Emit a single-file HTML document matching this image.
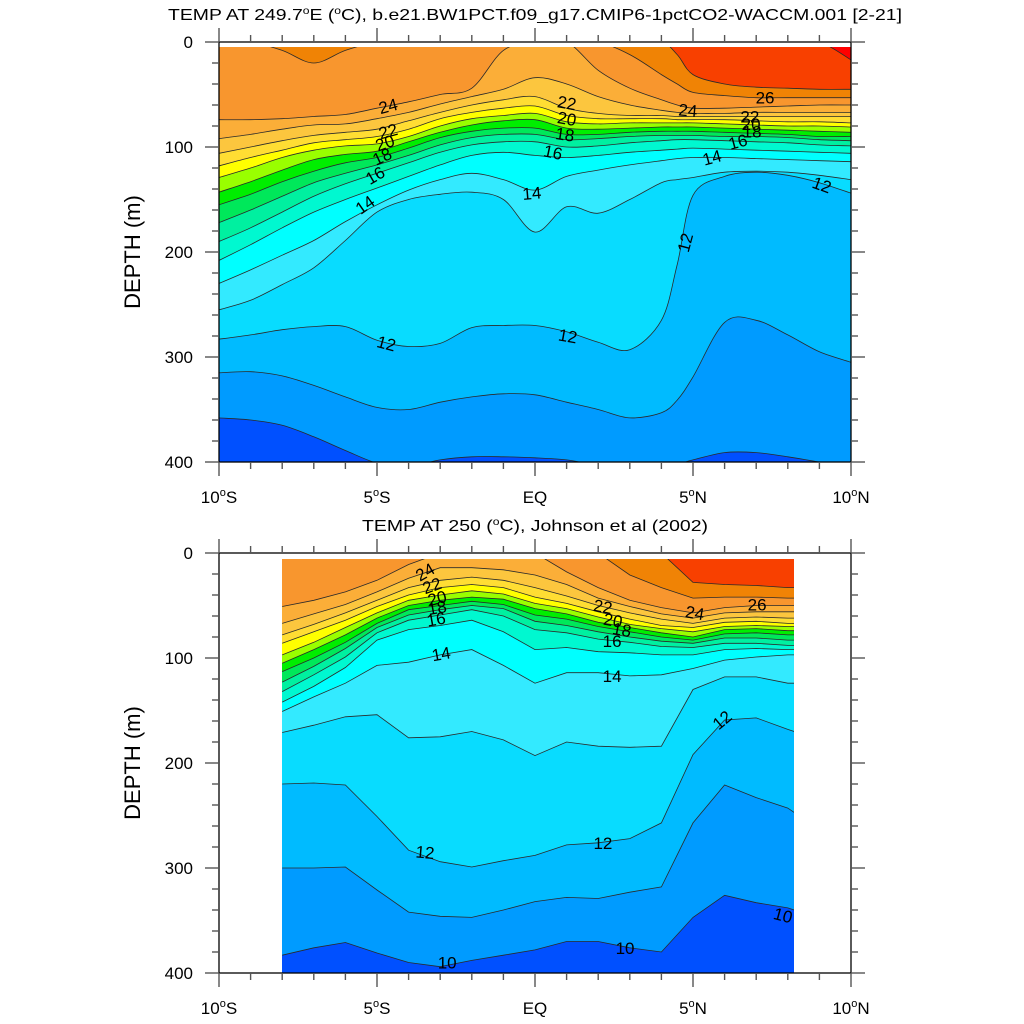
<!DOCTYPE html>
<html><head><meta charset="utf-8"><title>TEMP sections</title>
<style>html,body{margin:0;padding:0;background:#fff}svg{display:block}text{font-family:"Liberation Sans",sans-serif}</style></head>
<body>
<svg id="chart" width="1024" height="1024" viewBox="0 0 1024 1024" xmlns="http://www.w3.org/2000/svg"></svg>
<script>
// ---------- data ----------
const levels = [10,11,12,13,14,15,16,17,18,19,20,21,22,23,24,25,26,27];
const bandColors = ['#009bff','#00bbff','#08dcff','#33eaff','#00ffff','#00f8d0','#00f0a0','#00e85a','#00ee00','#99ff00','#ffff00','#ffdd33','#fcc63e','#fbae38','#f8962e','#f08305','#f84000','#ff0000'];
const coldColor = '#0050ff';
const xTicks = [-10,-5,0,5,10];
const xTickLabels = ['10°S','5°S','EQ','5°N','10°N'];
const yTicks = [0,100,200,300,400];

// top panel (model)
const latsTop = [-10,-9,-8,-7,-6,-5,-4,-3,-2,-1,0,1,2,3,4,4.5,5,6,7,8,9,10];
const t10 = [358,360,365,376,389,401,404,398,395,395,396,398,403,404,404,402,398,391,391,395,400,404];
const t11 = [315,314,318,327,338,348,350,343,338,335,336,343,350,358,353,341,319,267,265,279,295,305];
const t12 = [283,279,274,271,271,284,290,287,272,270,270,276,286,293,265,212,146,128,124,127,134,144];
const t13 = [255,246,231,215,189,162,150,145,143,150,181,157,163,150,134,131,129,124,123,124,127,131];
const t14 = [230,217,203,189,171,155,141,131,125,131,141,128,122,117,113,111,110,110,111,112,113,114];
const t15 = [208,193,177,162,150,139,128,117,108,105,108,110,108,105,103,102,101,102,103,104,105,106];
const t16 = [190,177,162,147,135,125,115,105,98,95,95,100,99,96,94,93,93,94,95,96,98,99];
const t17 = [172,160,147,134,125,117,108,98,91,88,88,93,92,90,89,89,89,90,90,91,93,94];
const t18 = [155,145,133,123,115,110,101,91,85,82,82,88,88,86,85,85,85,86,87,88,90,90];
const t19 = [143,133,122,112,107,104,95,86,79,75,74,82,83,82,81,81,81,82,83,84,85,86];
const t20 = [129,120,110,103,99,97,90,80,73,70,68,76,78,77,77,77,77,78,79,80,80,81];
const t21 = [118,110,103,96,93,90,83,73,67,63,61,70,73,73,73,74,74,74,75,76,76,77];
const t22 = [106,100,94,89,86,83,75,67,60,55,52,63,68,70,70,71,71,71,71,71,71,71];
const t23 = [92,88,83,79,78,73,67,59,52,45,34,40,52,60,65,67,68,68,67,67,67,67];
const t24 = [74,74,73,71,69,63,57,50,44,8,0,0,27,44,55,60,63,63,62,61,60,60];
const t25 = [0,0,8,20,8,0,0,0,0,0,0,0,0,12,31,40,48,51,53,53,53,53];
const t26 = [0,0,0,0,0,0,0,0,0,0,0,0,0,0,0,12,31,40,43,44,45,45];
const t27 = [0,0,0,0,0,0,0,0,0,0,0,0,0,0,0,0,0,0,0,0,0,17];
const topLabelLat = [-4.65,-4.65,-4.75,-4.84,-5.06,-5.38,1.01,1.01,0.95,0.57,-0.1,4.84,7.28,6.8,6.84,6.87,6.42,5.6,9.08,4.75,-4.7,1.04];
const topLabelDepth = [61,85,96,109,127,155,58,73,88,105,144,65,53,71,78,85,95,110,136,191,287,280];
const topLabelText = ['24','22','20','18','16','14','22','20','18','16','14','24','26','22','20','18','16','14','12','12','12','12'];
const topLabelRot = [-15,-15,-20,-25,-30,-35,10,10,8,12,-5,5,0,0,0,0,-15,-15,20,-75,15,10];

// bottom panel (Johnson et al 2002)
const latsBot = [-8,-7,-6,-5,-4,-3,-2,-1,0,1,2,3,4,5,6,7,8,8.2];
const b10 = [383,376,371,381,390,394,388,383,378,370,370,376,380,347,326,333,338,340];
const b11 = [300,300,299,321,342,346,347,340,332,328,329,323,318,257,221,233,243,247];
const b12 = [220,219,221,251,283,294,299,293,288,278,276,272,257,192,159,157,168,170];
const b13 = [171,164,156,154,176,175,170,178,193,180,184,185,184,130,118,118,124,124];
const b14 = [151,137,124,107,104,97,92,107,124,114,114,117,116,110,102,99,97,97];
const b15 = [142,127,109,83,73,69,64,75,92,90,94,95,97,97,92,91,92,92];
const b16 = [132,116,99,76,64,59,54,60,73,76,82,85,89,90,86,86,88,88];
const b17 = [123,108,91,71,59,54,50,53,65,69,75,80,84,86,81,81,83,83];
const b18 = [113,100,85,67,54,50,46,49,59,63,70,75,80,83,77,76,78,78];
const b19 = [105,92,78,62,50,45,42,44,53,58,66,71,76,80,73,72,74,74];
const b20 = [97,85,71,57,45,40,36,39,48,53,61,68,72,75,70,69,70,70];
const b21 = [86,75,64,51,40,33,30,33,42,48,56,63,69,71,66,65,67,67];
const b22 = [78,68,57,45,33,26,23,26,33,41,50,57,63,67,62,61,62,62];
const b23 = [67,58,49,37,24,14,14,16,21,30,43,51,58,62,57,56,56,56];
const b24 = [51,45,37,26,11,0,0,0,0,18,33,45,52,57,52,50,50,50];
const b25 = [0,0,0,0,0,0,0,0,0,0,0,21,33,43,42,42,43,43];
const b26 = [0,0,0,0,0,0,0,0,0,0,0,0,0,28,30,31,33,33];
const botLabelLat = [-3.48,-3.26,-3.1,-3.1,-3.13,-2.97,2.15,2.47,2.75,2.44,5.06,7.03,2.44,5.92,-3.48,2.15,-2.78,2.85,7.85];
const botLabelDepth = [18,31,43,52,63,96,51,64,73,84,57,49,117,159,285,276,390,376,345];
const botLabelText = ['24','22','20','18','16','14','22','20','18','16','24','26','14','12','12','12','10','10','10'];
const botLabelRot = [-30,-20,-15,-10,-10,-10,10,10,10,0,10,0,0,-40,5,0,0,0,15];

// ---------- drawing ----------
const NS='http://www.w3.org/2000/svg';
const svg=document.getElementById('chart');
function el(tag,attrs,parent){const e=document.createElementNS(NS,tag);for(const k in attrs)e.setAttribute(k,attrs[k]);(parent||svg).appendChild(e);return e;}
const xScale=lat=>535+31.6*lat;
function curvePath(pts,smooth){
  let d='';
  if(!smooth){pts.forEach((p,i)=>{d+=(i?'L':'')+p[0].toFixed(1)+','+p[1].toFixed(1);});return d;}
  d=pts[0][0].toFixed(1)+','+pts[0][1].toFixed(1);
  for(let i=0;i<pts.length-1;i++){
    const p0=pts[Math.max(0,i-1)],p1=pts[i],p2=pts[i+1],p3=pts[Math.min(pts.length-1,i+2)];
    const c1=[p1[0]+(p2[0]-p0[0])/6,p1[1]+(p2[1]-p0[1])/6];
    const c2=[p2[0]-(p3[0]-p1[0])/6,p2[1]-(p3[1]-p1[1])/6];
    d+='C'+c1[0].toFixed(1)+','+c1[1].toFixed(1)+' '+c2[0].toFixed(1)+','+c2[1].toFixed(1)+' '+p2[0].toFixed(1)+','+p2[1].toFixed(1);
  }
  return d;
}
function panel(cfg){
  const yScale=d=>cfg.y0+1.05*d;
  const g=el('g',{});
  
  
  const cp=el('clipPath',{id:cfg.name+'-clip'},g);
  el('rect',{x:cfg.clip[0],y:cfg.clip[1],width:cfg.clip[2]-cfg.clip[0],height:cfg.clip[3]-cfg.clip[1]},cp);
  const fg=el('g',{'clip-path':'url(#'+cfg.name+'-clip)'},g);
  const bg=el('rect',{x:cfg.clip[0],y:cfg.clip[1],width:cfg.clip[2]-cfg.clip[0],height:cfg.clip[3]-cfg.clip[1],fill:coldColor},fg);
  
  
  cfg.series.forEach((arr,i)=>{
    const pts=cfg.lats.map((la,j)=>[xScale(la),yScale(arr[j])]);
    const first=pts[0],last=pts[pts.length-1];
    const d='M'+(first[0]-20)+','+(cfg.y0-20)+'L'+(first[0]-20)+','+first[1].toFixed(1)+'L'+curvePath(pts,cfg.smooth)+'L'+(last[0]+20)+','+last[1].toFixed(1)+'L'+(last[0]+20)+','+(cfg.y0-20)+'Z';
    const p=el('path',{d:d,fill:bandColors[i],stroke:'none'},fg);
    
    
  });
  cfg.series.forEach((arr,i)=>{
    const pts=cfg.lats.map((la,j)=>[xScale(la),yScale(arr[j])]);
    const l=el('path',{d:'M'+curvePath(pts,cfg.smooth),fill:'none',stroke:'#2a2a2a','stroke-width':0.8},fg);
    
    
  });
  cfg.labLat.forEach((la,i)=>{
    const x=xScale(la),y=yScale(cfg.labDepth[i]);
    const t=el('text',{x:x,y:y+6,'font-size':17,'text-anchor':'middle',fill:'#000',transform:'rotate('+cfg.labRot[i]+' '+x+' '+y+')'},fg);
    t.textContent=cfg.labText[i];
    
    
  });
  const fr=el('rect',{x:219,y:cfg.y0,width:632,height:420,fill:'none',stroke:'#000','stroke-width':1.3},g);
  
  
  const tk=el('g',{stroke:'#555','stroke-width':1.4},g);
  
  
  for(let d=0;d<=400;d+=20){
    const y=yScale(d),L=(d%100===0)?14:7;
    el('line',{x1:219-L,y1:y,x2:219,y2:y},tk);
    el('line',{x1:851,y1:y,x2:851+L,y2:y},tk);
  }
  for(let la=-10;la<=10;la++){
    const x=xScale(la),L=(la%5===0)?14:7;
    el('line',{x1:x,y1:cfg.y0,x2:x,y2:cfg.y0-L},tk);
    el('line',{x1:x,y1:cfg.y0+420,x2:x,y2:cfg.y0+420+L},tk);
  }
  yTicks.forEach(v=>{
    const t=el('text',{x:193,y:yScale(v)+6,'font-size':17,'text-anchor':'end'},g);
    t.textContent=String(v);
    
    
  });
  xTicks.forEach((v,i)=>{
    const t=el('text',{x:xScale(v),y:cfg.y0+461,'font-size':17,'text-anchor':'middle'},g);
    const s=xTickLabels[i];
    if(s.indexOf('°')>=0){
      const parts=s.split('°');
      const a=el('tspan',{},t);a.textContent=parts[0];
      const b=el('tspan',{dy:-7,'font-size':11},t);b.textContent='o';
      const c=el('tspan',{dy:7},t);c.textContent=parts[1];
    } else t.textContent=s;
    
    
  });
  const yt=el('text',{x:0,y:0,'font-size':22,'text-anchor':'middle',transform:'translate(140,'+(cfg.y0+210)+') rotate(-90)'},g);
  yt.textContent='DEPTH (m)';
  
  
}
panel({name:'model-panel',y0:42,lats:latsTop,smooth:true,clip:[219,47,851,462],
  series:[t10,t11,t12,t13,t14,t15,t16,t17,t18,t19,t20,t21,t22,t23,t24,t25,t26,t27],
  labLat:topLabelLat,labDepth:topLabelDepth,labText:topLabelText,labRot:topLabelRot});
panel({name:'obs-panel',y0:553,lats:latsBot,smooth:false,clip:[282,559,794,973],
  series:[b10,b11,b12,b13,b14,b15,b16,b17,b18,b19,b20,b21,b22,b23,b24,b25,b26],
  labLat:botLabelLat,labDepth:botLabelDepth,labText:botLabelText,labRot:botLabelRot});
</script>
<script>
(function(){
const NS='http://www.w3.org/2000/svg';const svg=document.getElementById('chart');
function title(y,parts,name,len){
  const t=document.createElementNS(NS,'text');
  t.setAttribute('x',535);t.setAttribute('y',y);t.setAttribute('font-size',16);t.setAttribute('text-anchor','middle');
  t.setAttribute('textLength',len);t.setAttribute('lengthAdjust','spacingAndGlyphs');
  parts.forEach(p=>{const s=document.createElementNS(NS,'tspan');if(p[1])s.setAttribute('dy',p[1]);if(p[2])s.setAttribute('font-size',p[2]);s.textContent=p[0];t.appendChild(s);});
  
  
  svg.appendChild(t);
}
title(20,[['TEMP AT 249.7'],['o',-6,10],['E (',6],['o',-6,10],['C), b.e21.BW1PCT.f09_g17.CMIP6-1pctCO2-WACCM.001 [2-21]',6]],'top-panel-title',734);
title(531,[['TEMP AT 250 ('],['o',-6,10],['C), Johnson et al (2002)',6]],'bottom-panel-title',346);
})();
</script>
</body></html>
